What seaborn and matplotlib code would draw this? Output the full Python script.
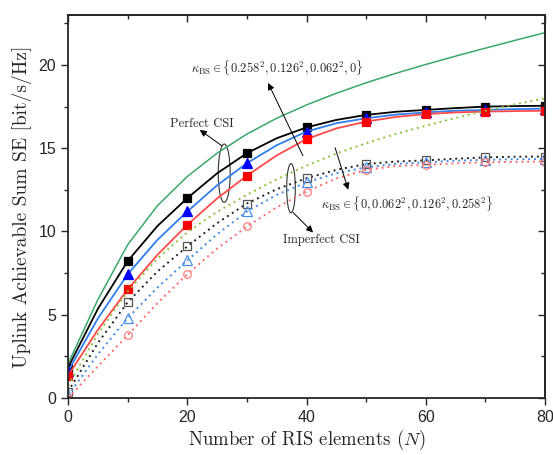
import numpy as np
import pandas as pd
import matplotlib
matplotlib.use("Agg")
import matplotlib.pyplot as plt
from matplotlib.patches import Ellipse
from matplotlib.ticker import MultipleLocator
import seaborn as sns

# ---------------- data ----------------
N = [0, 5, 10, 15, 20, 25, 30, 35, 40, 45, 50, 55, 60, 65, 70, 75, 80]

# perfect CSI
upper_bound = [2.05, 5.9, 9.2, 11.55, 13.3, 14.7, 15.85, 16.8, 17.6, 18.3, 18.93, 19.5, 20.03, 20.53, 21.01, 21.48, 21.94]
perf_k0 = [1.82, 5.35, 8.22, 10.33, 12.0, 13.49, 14.7, 15.6, 16.25, 16.7, 17.0, 17.19, 17.3, 17.41, 17.5, 17.53, 17.55]
perf_k062 = [1.6, 4.77, 7.43, 9.5, 11.2, 12.77, 14.1, 15.18, 16.0, 16.5, 16.8, 17.02, 17.15, 17.25, 17.3, 17.35, 17.38]
perf_k126 = [1.34, 4.09, 6.52, 8.6, 10.4, 11.98, 13.35, 14.57, 15.55, 16.19, 16.6, 16.88, 17.05, 17.15, 17.2, 17.23, 17.25]

# imperfect CSI
imp_bound = [0.75, 3.84, 6.4, 8.37, 9.95, 11.18, 12.2, 13.14, 13.95, 14.68, 15.3, 15.86, 16.35, 16.82, 17.25, 17.64, 18.0]
imp_k0 = [0.38, 3.3, 5.75, 7.6, 9.1, 10.5, 11.68, 12.54, 13.2, 13.7, 14.05, 14.2, 14.27, 14.37, 14.45, 14.49, 14.5]
imp_k062 = [0.15, 2.62, 4.8, 6.63, 8.26, 9.83, 11.2, 12.2, 12.95, 13.5, 13.85, 14.06, 14.15, 14.25, 14.3, 14.34, 14.35]
imp_k126 = [0.0, 1.9, 3.77, 5.7, 7.43, 8.97, 10.3, 11.45, 12.4, 13.18, 13.7, 13.93, 14.0, 14.1, 14.15, 14.18, 14.2]

x_ticks = [0, 20, 40, 60, 80]
y_ticks = [0, 5, 10, 15, 20]

xlabel = "Number of RIS elements $(N)$"
ylabel = "Uplink Achievable Sum SE [bit/s/Hz]"
txt_perfect = "Perfect CSI"
txt_imperfect = "Imperfect CSI"
txt_k1 = r"$\kappa_{\mathrm{BS}} \in \{0.258^2, 0.126^2, 0.062^2, 0\}$"
txt_k2 = r"$\kappa_{\mathrm{BS}} \in \{0, 0.062^2, 0.126^2, 0.258^2\}$"

# ---------------- style ----------------
sns.set_style("ticks")
plt.rcParams["mathtext.fontset"] = "cm"
plt.rcParams["font.family"] = ["Liberation Sans", "DejaVu Sans"]
plt.rcParams["axes.unicode_minus"] = False

fig = plt.figure(figsize=(5.53, 4.55), dpi=100)
ax = fig.add_axes([0.123, 0.1253, 0.8625, 0.8417])

dot = (0, (1, 2))
series = [
    # values, line color, linestyle, lw, marker, mfc, mec, ms
    (upper_bound, "#3aa86b", "-", 1.1, None, None, None, 0),
    (perf_k0, "#000000", "-", 1.3, "s", "#000000", "#000000", 5.2),
    (perf_k062, "#2f7fef", "-", 1.3, "^", "#0000ff", "#0000ff", 6.5),
    (perf_k126, "#ff4a4a", "-", 1.3, "s", "#ff0000", "#ff0000", 5.2),
    (imp_bound, "#88c43a", dot, 1.4, None, None, None, 0),
    (imp_k0, "#222222", dot, 1.4, "s", "none", "#555555", 5.2),
    (imp_k062, "#3f8be8", dot, 1.4, "^", "none", "#4a8fe6", 6.5),
    (imp_k126, "#ff6a6a", dot, 1.4, "o", "none", "#ff8080", 5.5),
]

for vals, col, ls, lw, mk, mfc, mec, ms in series:
    kw = dict(color=col, linestyle=ls, linewidth=lw)
    if mk is not None:
        kw.update(marker=mk, markerfacecolor=mfc, markeredgecolor=mec,
                  markersize=ms, markevery=2, markeredgewidth=0.9)
    sns.lineplot(x=N, y=vals, ax=ax, legend=False, **kw)

ax.set_xlim(0, 80)
ax.set_ylim(0, 23)
ax.set_xticks(x_ticks)
ax.set_yticks(y_ticks)
ax.xaxis.set_minor_locator(MultipleLocator(10))
ax.yaxis.set_minor_locator(MultipleLocator(2.5))
ax.tick_params(which="major", direction="out", length=5, width=1, labelsize=11.5,
               top=False, right=False)
ax.tick_params(which="minor", direction="out", length=3, width=1,
               top=False, right=False)
for sp in ax.spines.values():
    sp.set_linewidth(1.3)
    sp.set_visible(True)

# inward ticks on top and right
axt = ax.secondary_xaxis("top")
axt.set_xticks(x_ticks)
axt.xaxis.set_minor_locator(MultipleLocator(10))
axt.tick_params(which="major", direction="in", length=5, width=1, labeltop=False)
axt.tick_params(which="minor", direction="in", length=3, width=1)
axt.spines["top"].set_linewidth(1.3)
axr = ax.secondary_yaxis("right")
axr.set_yticks(y_ticks)
axr.yaxis.set_minor_locator(MultipleLocator(2.5))
axr.tick_params(which="major", direction="in", length=5, width=1, labelright=False)
axr.tick_params(which="minor", direction="in", length=3, width=1)
axr.spines["right"].set_linewidth(1.3)

ax.set_xlabel(xlabel, fontfamily="cmr10", fontsize=13.5, labelpad=2)
ax.set_ylabel(ylabel, fontfamily="cmr10", fontsize=14, labelpad=5)

# ellipses
ax.add_patch(Ellipse((26.2, 13.5), 2.0, 3.5, fill=False, edgecolor="#333333", lw=0.8))
ax.add_patch(Ellipse((37.4, 12.6), 1.45, 2.95, fill=False, edgecolor="#333333", lw=0.8))

arrow = dict(arrowstyle="-|>", color="black", lw=0.7, mutation_scale=10, shrinkA=0, shrinkB=0)
ax.annotate("", xy=(22.1, 16.1), xytext=(25.8, 15.15), arrowprops=arrow)
ax.annotate("", xy=(41.1, 9.94), xytext=(37.75, 11.14), arrowprops=arrow)
ax.annotate("", xy=(33.56, 18.92), xytext=(39.4, 14.55), arrowprops=arrow)
ax.annotate("", xy=(47.0, 12.51), xytext=(44.8, 15.03), arrowprops=arrow)

ax.text(22.5, 16.47, txt_perfect, fontfamily="cmr10", fontsize=9, ha="center", va="center")
ax.text(42.45, 9.52, txt_imperfect, fontfamily="cmr10", fontsize=9, ha="center", va="center")
ax.text(35.07, 19.82, txt_k1, fontsize=9, ha="center", va="center")
ax.text(56.9, 11.68, txt_k2, fontsize=9, ha="center", va="center")

fig.savefig("out.png", dpi=100)
